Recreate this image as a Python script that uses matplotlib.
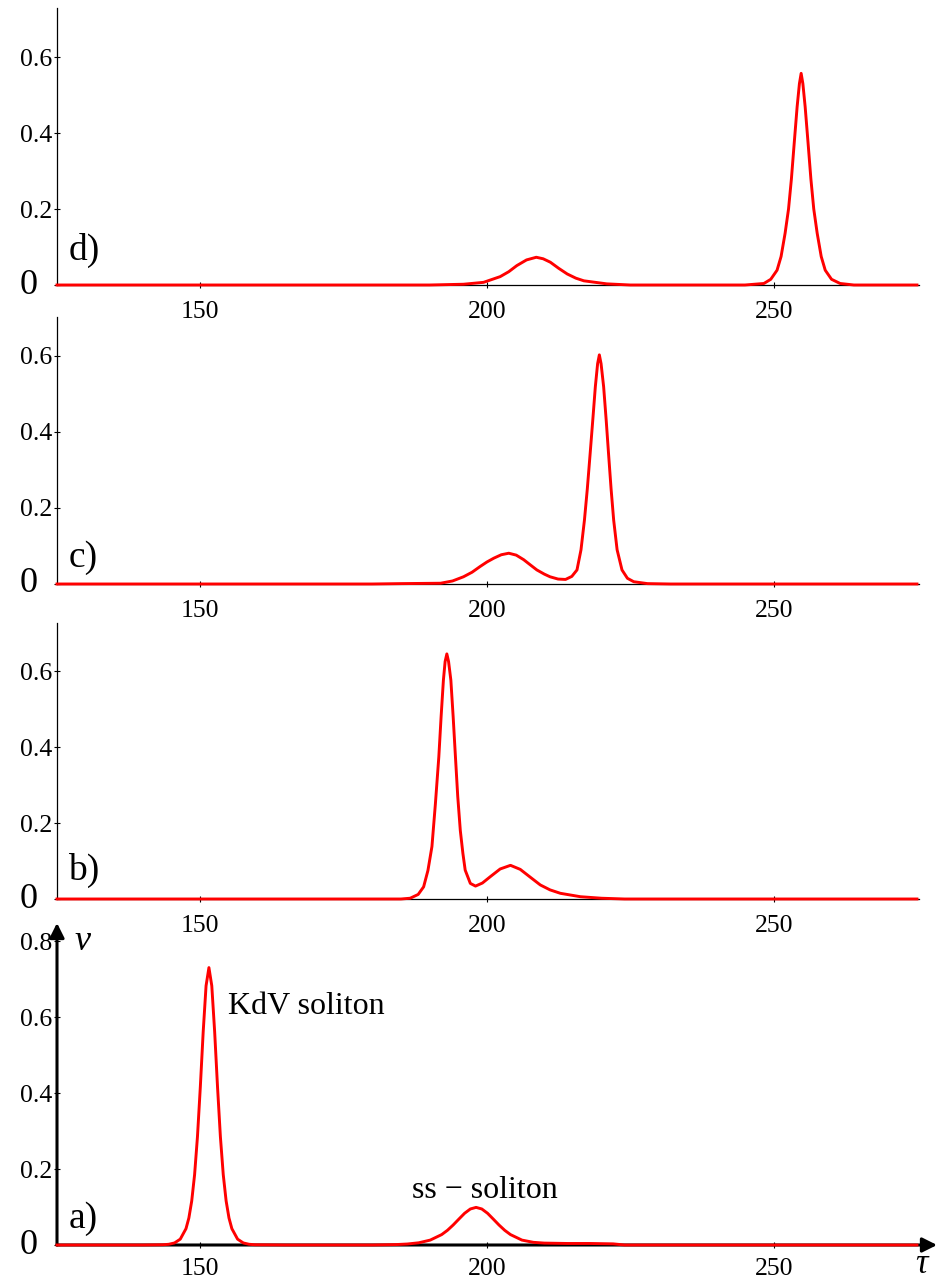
import matplotlib.pyplot as plt

plt.rcParams['font.family'] = ['Liberation Serif', 'DejaVu Serif']

# a) KdV soliton and ss-soliton, separated
tau_a = [125, 140, 143.5, 144.5, 145.5, 146.5, 147.5, 148, 148.5, 149, 149.5, 150, 150.5, 151,
         151.5, 152, 152.5, 153, 153.5, 154, 154.5, 155, 155.5, 156.5, 157.5, 158.5, 159.5,
         165, 180, 184.1, 186.1, 188.1, 190.1, 192.1, 193.1, 194.1, 195.1, 196.1, 197.1, 198.1,
         199.1, 200.1, 201.1, 202.1, 203.1, 204.1, 206.1, 208.1, 210, 214, 218, 222, 224, 275]
v_a = [0, 0, 0.0007, 0.0019, 0.0054, 0.0154, 0.043, 0.071, 0.116, 0.185, 0.285, 0.416, 0.561, 0.682,
       0.730, 0.682, 0.561, 0.416, 0.285, 0.185, 0.116, 0.071, 0.043, 0.0154, 0.0054, 0.0019, 0.0007,
       0, 0, 0.0011, 0.0026, 0.0058, 0.0129, 0.0274, 0.0386, 0.0526, 0.0682, 0.0835, 0.0948, 0.099,
       0.0948, 0.0835, 0.0682, 0.0526, 0.0386, 0.0274, 0.0129, 0.0070, 0.005, 0.004, 0.004, 0.003, 0, 0]

# b)
tau_b = [125, 185, 186.6, 188.0, 188.95, 189.7, 190.4, 191.0, 191.6, 192.0, 192.4, 192.7, 193.0,
         193.3, 193.7, 194.1, 194.5, 194.9, 195.35, 195.8, 196.2, 197.1, 198.0, 199.2, 200.6, 202.3,
         204.1, 205.8, 207.5, 209.3, 211.0, 212.8, 216.3, 220, 224, 275]
v_b = [0, 0, 0.002, 0.012, 0.032, 0.075, 0.138, 0.25, 0.374, 0.48, 0.576, 0.625, 0.645,
       0.625, 0.576, 0.48, 0.374, 0.27, 0.18, 0.12, 0.076, 0.041, 0.034, 0.042, 0.059, 0.079,
       0.0886, 0.078, 0.058, 0.037, 0.024, 0.015, 0.006, 0.002, 0, 0]

# c)
tau_c = [125, 180, 185, 191.9, 194, 195.9, 197.4, 198.8, 200.0, 201.2, 202.5, 203.8, 205.1, 206.4,
         207.5, 208.7, 210.0, 211.0, 212.4, 213.7, 214.8, 215.7, 216.4, 217.0, 217.5, 218.0, 218.5,
         218.9, 219.3, 219.6, 219.9, 220.35, 220.8, 221.2, 221.65, 222.1, 222.7, 223.55, 224.5,
         225.6, 228, 232, 275]
v_c = [0, 0, 0.001, 0.002, 0.008, 0.019, 0.031, 0.046, 0.058, 0.068, 0.077, 0.081, 0.076, 0.064,
       0.051, 0.037, 0.026, 0.019, 0.013, 0.012, 0.020, 0.037, 0.09, 0.168, 0.25, 0.344, 0.44,
       0.519, 0.58, 0.603, 0.58, 0.519, 0.43, 0.344, 0.25, 0.168, 0.09, 0.037, 0.015,
       0.006, 0.001, 0, 0]

# d)
tau_d = [125, 190, 195.9, 199.4, 202.3, 203.8, 205.2, 206.9, 208.6, 209.8, 211.05, 212.5, 214.0,
         215.5, 216.9, 220.9, 225, 245, 248.3, 249.5, 250.6, 251.3, 252.0, 252.6, 253.1, 253.6,
         254.1, 254.5, 254.8, 255.1, 255.5, 256.0, 256.5, 257.0, 257.6, 258.3, 259.0, 260.1, 261.6,
         264, 275]
v_d = [0, 0, 0.002, 0.007, 0.022, 0.035, 0.051, 0.066, 0.073, 0.069, 0.060, 0.044, 0.029,
       0.018, 0.011, 0.003, 0, 0, 0.004, 0.015, 0.039, 0.075, 0.136, 0.2, 0.279, 0.375,
       0.469, 0.53, 0.557, 0.53, 0.469, 0.375, 0.279, 0.2, 0.136, 0.075, 0.039, 0.015, 0.004,
       0, 0]

panel_labels = ['d)', 'c)', 'b)', 'a)']
x_ticks = [150, 200, 250]

W, H = 938, 1283
fig = plt.figure(figsize=(W / 100, H / 100), dpi=100)

PX_X = 5.733   # pixels per tau unit
PX_Y = 380     # pixels per v unit


def add_panel(top_px, base_px, x_right):
    left = 57
    right = left + (x_right - 125) * PX_X
    ax = fig.add_axes([left / W, 1 - base_px / H, (right - left) / W, (base_px - top_px) / H])
    ax.patch.set_visible(False)
    ax.set_xlim(125, x_right)
    ax.set_ylim(0, (base_px - top_px) / PX_Y)
    ax.spines[['top', 'right']].set_visible(False)
    ax.set_xticks(x_ticks)
    ax.set_xticklabels([str(t) for t in x_ticks])
    ax.tick_params(direction='inout', length=5, width=0.8, labelsize=18.5)
    ax.tick_params(axis='y', pad=1)
    # big zero on the v axis
    ax.text(-0.022, 0, '0', transform=ax.get_yaxis_transform(), ha='right', va='center', fontsize=26)
    return ax


layout = [(8, 285, 275.3), (317, 584, 275.3), (623, 899, 275.3), (923, 1245, 278.5)]
curves = [(tau_d, v_d), (tau_c, v_c), (tau_b, v_b), (tau_a, v_a)]
label_lift = [25, 17, 19, 17]

for i, ((top, base, xr), (t, v)) in enumerate(zip(layout, curves)):
    ax = add_panel(top, base, xr)
    if i < 3:
        ax.set_yticks([0, 0.2, 0.4, 0.6])
        ax.set_yticklabels(['', '0.2', '0.4', '0.6'])
        ax.spines[['left', 'bottom']].set_linewidth(0.9)
        ax.tick_params(axis='x', pad=9)
    else:
        ax.set_yticks([0, 0.2, 0.4, 0.6, 0.8])
        ax.set_yticklabels(['', '0.2', '0.4', '0.6', '0.8'])
        ax.spines[['left', 'bottom']].set_visible(False)
        ax.tick_params(axis='x', pad=7)
        arrow = dict(arrowstyle='-|>', lw=2.2, color='black', mutation_scale=22, shrinkA=0, shrinkB=0)
        ax.annotate('', xy=(1, 0), xytext=(0, 0), xycoords='axes fraction', arrowprops=arrow)
        ax.annotate('', xy=(0, 1), xytext=(0, 0), xycoords='axes fraction', arrowprops=arrow)
        ax.text(128.0, 0.80, 'v', fontsize=26, style='italic', ha='left', va='center')
        ax.text(0.982, -0.113, 'τ', transform=ax.transAxes, fontsize=25, style='italic',
                ha='center', va='bottom')
        ax.text(154.9, 0.608, 'KdV soliton', fontsize=23, va='baseline')
        ax.text(186.9, 0.124, 'ss − soliton', fontsize=23, va='baseline')
    ax.plot(t, v, color='red', lw=2.1, zorder=3, clip_on=False)
    ax.text(127.0, label_lift[i] / PX_Y, panel_labels[i], fontsize=27, va='baseline')

plt.savefig('out.png', dpi=100)
